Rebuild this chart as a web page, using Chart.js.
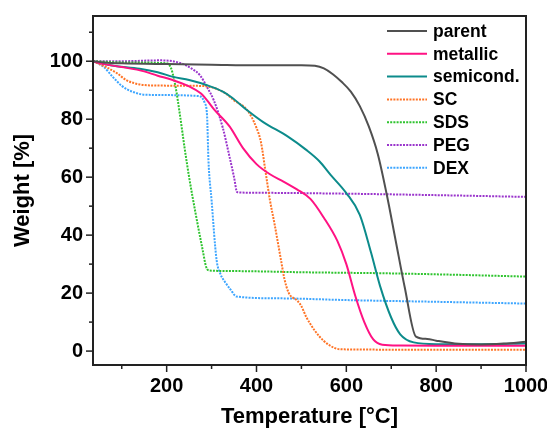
<!DOCTYPE html>
<html>
<head>
<meta charset="utf-8">
<script src="https://cdn.jsdelivr.net/npm/chart.js@4"></script>
<style>
  html, body { margin: 0; padding: 0; background: #fff; }
  #wrap { width: 547px; height: 430px; }
</style>
</head>
<body>
<div id="wrap"><canvas id="tga"></canvas></div>
<script>
// TGA curves: temperature (°C) / weight (%)
const parentTemp = [36, 60, 100, 200, 300, 400, 500, 530, 550, 570, 590, 610, 630, 650, 670, 690, 710, 730, 755, 780, 800, 850, 900, 950, 1000];
const parentWeight = [100, 99.6, 99.3, 99.0, 98.8, 98.6, 98.6, 98.4, 97.5, 95.5, 92.8, 89.5, 84.5, 77.5, 68, 54, 38, 22, 5, 4.2, 3.6, 2.5, 2.3, 2.6, 3.2];

const metallicTemp = [36, 60, 100, 150, 180, 210, 250, 275, 290, 305, 340, 370, 400, 430, 460, 490, 520, 550, 580, 600, 620, 640, 660, 680, 720, 800, 900, 1000];
const metallicWeight = [100, 99, 98, 96.5, 95, 93.7, 91.3, 89, 86.5, 83.5, 77.5, 70, 64.5, 61, 58.5, 55.8, 52.5, 46, 38, 30, 19, 10, 4, 2.2, 1.9, 1.8, 1.8, 1.8];

const semiTemp = [36, 75, 140, 180, 215, 250, 290, 325, 345, 380, 415, 470, 510, 540, 565, 600, 630, 655, 675, 700, 720, 750, 800, 900, 1000];
const semiWeight = [100, 98.6, 97.4, 96.2, 94.6, 93.5, 91.7, 89.5, 87.5, 83, 79, 74, 69.5, 65.5, 60.8, 54.5, 47, 34, 22.5, 11.5, 5.8, 3, 2.4, 2.4, 2.6];

const scTemp = [36, 65, 90, 110, 140, 180, 270, 300, 330, 350, 380, 400, 410, 420, 430, 440, 455, 462, 472, 490, 500, 510, 530, 550, 575, 595, 700, 1000];
const scWeight = [100, 98, 95.8, 93.5, 92, 91.6, 91.5, 91, 89, 86.5, 83, 77, 72, 62, 52, 44, 31, 25, 20, 17.5, 15.5, 12, 7, 3.5, 1, 0.6, 0.5, 0.5];

const sdsTemp = [36, 100, 200, 210, 220, 230, 240, 250, 265, 280, 288, 295, 350, 500, 700, 850, 1000];
const sdsWeight = [100, 99.6, 99.3, 97.5, 91, 81, 70, 60, 47, 35, 29, 27.8, 27.6, 27.2, 26.8, 26.3, 25.7];

const pegTemp = [36, 100, 185, 230, 255, 275, 290, 305, 325, 340, 350, 357, 400, 600, 800, 1000];
const pegWeight = [100, 100, 100.3, 99.4, 97.5, 95, 91, 86.5, 77, 67, 60, 54.8, 54.6, 54.3, 53.8, 53.2];

const dexTemp = [36, 60, 80, 100, 125, 155, 270, 285, 290, 293, 300, 311, 320, 330, 341, 356, 450, 600, 800, 1000];
const dexWeight = [100, 98, 94.6, 91.5, 89.4, 88.4, 88, 85.5, 81, 66, 52, 31.6, 26.5, 23.8, 21.5, 18.8, 18.2, 17.6, 17, 16.4];

const seriesNames = ['parent', 'metallic', 'semicond.', 'SC', 'SDS', 'PEG', 'DEX'];
const seriesColors = ['#505050', '#ff1283', '#0c8b8b', '#ff7426', '#2fc42f', '#9a35cc', '#3ea6ff'];

const xTicks = [100, 200, 300, 400, 500, 600, 700, 800, 900, 1000];
const yTicks = [0, 10, 20, 30, 40, 50, 60, 70, 80, 90, 100, 110];

const FONT = "'Liberation Sans', Arial, sans-serif";

function zip(t, w) {
  return t.map((v, i) => ({ x: v, y: w[i] }));
}

const curves = [
  [parentTemp, parentWeight],
  [metallicTemp, metallicWeight],
  [semiTemp, semiWeight],
  [scTemp, scWeight],
  [sdsTemp, sdsWeight],
  [pegTemp, pegWeight],
  [dexTemp, dexWeight]
];

const datasets = curves.map((c, i) => ({
  label: seriesNames[i],
  data: zip(c[0], c[1]),
  borderColor: seriesColors[i],
  backgroundColor: seriesColors[i],
  borderWidth: 2,
  borderDash: i < 3 ? [] : [2, 1.2],
  pointRadius: 0,
  cubicInterpolationMode: 'monotone',
  fill: false
}));

// frame, outward tick marks and the in-plot legend
const framePlugin = {
  id: 'frame',
  afterDatasetsDraw(chart) {
    const { ctx, chartArea: a, scales } = chart;
    ctx.save();
    ctx.strokeStyle = '#222';
    ctx.lineWidth = 2;
    ctx.strokeRect(a.left, a.top, a.right - a.left, a.bottom - a.top);

    ctx.lineWidth = 1.5;
    scales.x.ticks.forEach(t => {
      const px = scales.x.getPixelForValue(t.value);
      const len = t.value % 200 === 0 ? 7 : 4;
      ctx.beginPath();
      ctx.moveTo(px, a.bottom);
      ctx.lineTo(px, a.bottom + len);
      ctx.stroke();
    });
    scales.y.ticks.forEach(t => {
      const py = scales.y.getPixelForValue(t.value);
      const len = t.value % 20 === 0 ? 7 : 4;
      ctx.beginPath();
      ctx.moveTo(a.left, py);
      ctx.lineTo(a.left - len, py);
      ctx.stroke();
    });

    // legend
    ctx.font = 'bold 17.5px ' + FONT;
    ctx.textBaseline = 'middle';
    ctx.textAlign = 'left';
    chart.data.datasets.forEach((ds, i) => {
      const y = a.top + 15 + i * 22.8;
      const x0 = a.right - 139;
      ctx.strokeStyle = ds.borderColor;
      ctx.lineWidth = 2;
      ctx.setLineDash(ds.borderDash);
      ctx.beginPath();
      ctx.moveTo(x0, y);
      ctx.lineTo(x0 + 40, y);
      ctx.stroke();
      ctx.setLineDash([]);
      ctx.fillStyle = '#000';
      ctx.fillText(ds.label, a.right - 93, y + 1);
    });
    ctx.restore();
  }
};

new Chart(document.getElementById('tga'), {
  type: 'line',
  data: { datasets: datasets },
  options: {
    responsive: true,
    maintainAspectRatio: false,
    animation: false,
    layout: { padding: { top: 16, right: 21, left: 0, bottom: 0 } },
    plugins: {
      legend: { display: false },
      tooltip: { enabled: false }
    },
    scales: {
      x: {
        type: 'linear',
        min: 36,
        max: 1000,
        afterBuildTicks: s => { s.ticks = xTicks.map(v => ({ value: v })); },
        afterFit: s => { s.height = 65; s.paddingLeft = 0; s.paddingRight = 0; },
        grid: { display: false, drawTicks: false },
        border: { display: false },
        ticks: {
          padding: 9,
          color: '#000',
          font: { family: FONT, size: 20, weight: 'bold' },
          maxRotation: 0,
          autoSkip: false,
          callback: v => (v % 200 === 0 ? String(v) : '')
        },
        title: {
          display: true,
          text: 'Temperature [°C]',
          color: '#000',
          font: { family: FONT, size: 22, weight: 'bold' },
          padding: { top: 0, bottom: 0 }
        }
      },
      y: {
        type: 'linear',
        min: -4.8,
        max: 115.6,
        afterBuildTicks: s => { s.ticks = yTicks.map(v => ({ value: v })); },
        afterFit: s => { s.width = 93; s.paddingTop = 0; s.paddingBottom = 0; },
        grid: { display: false, drawTicks: false },
        border: { display: false },
        ticks: {
          padding: 10,
          color: '#000',
          font: { family: FONT, size: 20, weight: 'bold' },
          autoSkip: false,
          callback: v => (v % 20 === 0 ? String(v) : '')
        },
        title: {
          display: true,
          text: 'Weight [%]',
          color: '#000',
          font: { family: FONT, size: 22, weight: 'bold' },
          padding: { top: 10, bottom: 0 }
        }
      }
    }
  },
  plugins: [framePlugin]
});
</script>
</body>
</html>
